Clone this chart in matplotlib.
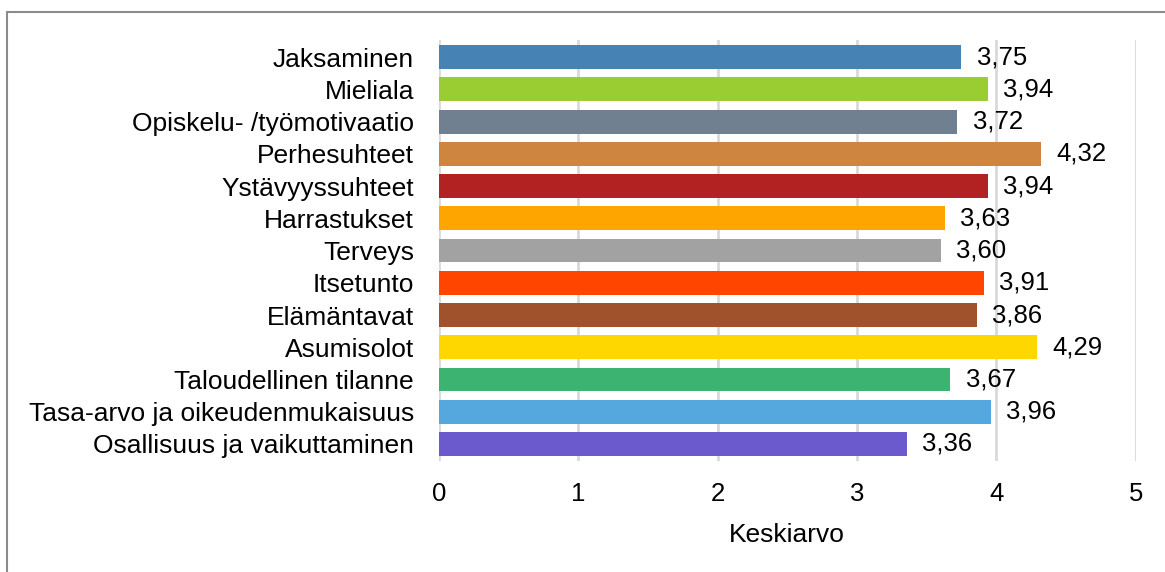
import numpy as np
import matplotlib.pyplot as plt
from matplotlib.patches import Rectangle

plt.rcParams['font.family'] = ['Liberation Sans', 'DejaVu Sans']

categories = ["Jaksaminen", "Mieliala", "Opiskelu- /työmotivaatio", "Perhesuhteet",
              "Ystävyyssuhteet", "Harrastukset", "Terveys", "Itsetunto",
              "Elämäntavat", "Asumisolot", "Taloudellinen tilanne",
              "Tasa-arvo ja oikeudenmukaisuus", "Osallisuus ja vaikuttaminen"]
values = [3.75, 3.94, 3.72, 4.32, 3.94, 3.63, 3.60, 3.91, 3.86, 4.29, 3.67, 3.96, 3.36]
colors = ["#4682B4", "#9ACD32", "#708090", "#CD853F", "#B22222", "#FFA500", "#A2A2A2",
          "#FF4500", "#A0522D", "#FFD700", "#3CB371", "#55A8DE", "#6A5ACD"]
xticks = [0, 1, 2, 3, 4, 5]

fig = plt.figure(figsize=(11.65, 5.72), dpi=100)
ax = fig.add_axes([0.3768, 0.194, 0.598, 0.736])

# outer frame (only left and top edges visible)
fig.patches.append(Rectangle((7 / 1165, -0.05), 1.2, 1 - 12 / 572 + 0.05,
                             transform=fig.transFigure, fill=False,
                             edgecolor="#8c8c8c", linewidth=1.5))

y = np.arange(len(categories))
ax.barh(y, values, height=0.74, color=colors, zorder=3)

for yi, v in zip(y, values):
    ax.annotate(f"{v:.2f}".replace(".", ","), (v, yi), xytext=(11, 0),
                textcoords="offset points", va="center", ha="left", fontsize=18.5)

ax.set_xlim(0, 5)
ax.set_ylim(len(categories) - 0.47, -0.53)
ax.set_xticks(xticks)
ax.set_yticks(y)
ax.set_yticklabels(categories, fontsize=19)
ax.tick_params(axis="x", length=0, pad=15, labelsize=18.5)
ax.tick_params(axis="y", length=0, pad=18)
ax.grid(axis="x", color="#d9d9d9", linewidth=2, zorder=0)
for s in ax.spines.values():
    s.set_visible(False)
ax.set_xlabel("Keskiarvo", fontsize=19, labelpad=12)

fig.savefig("out.png", dpi=100)
